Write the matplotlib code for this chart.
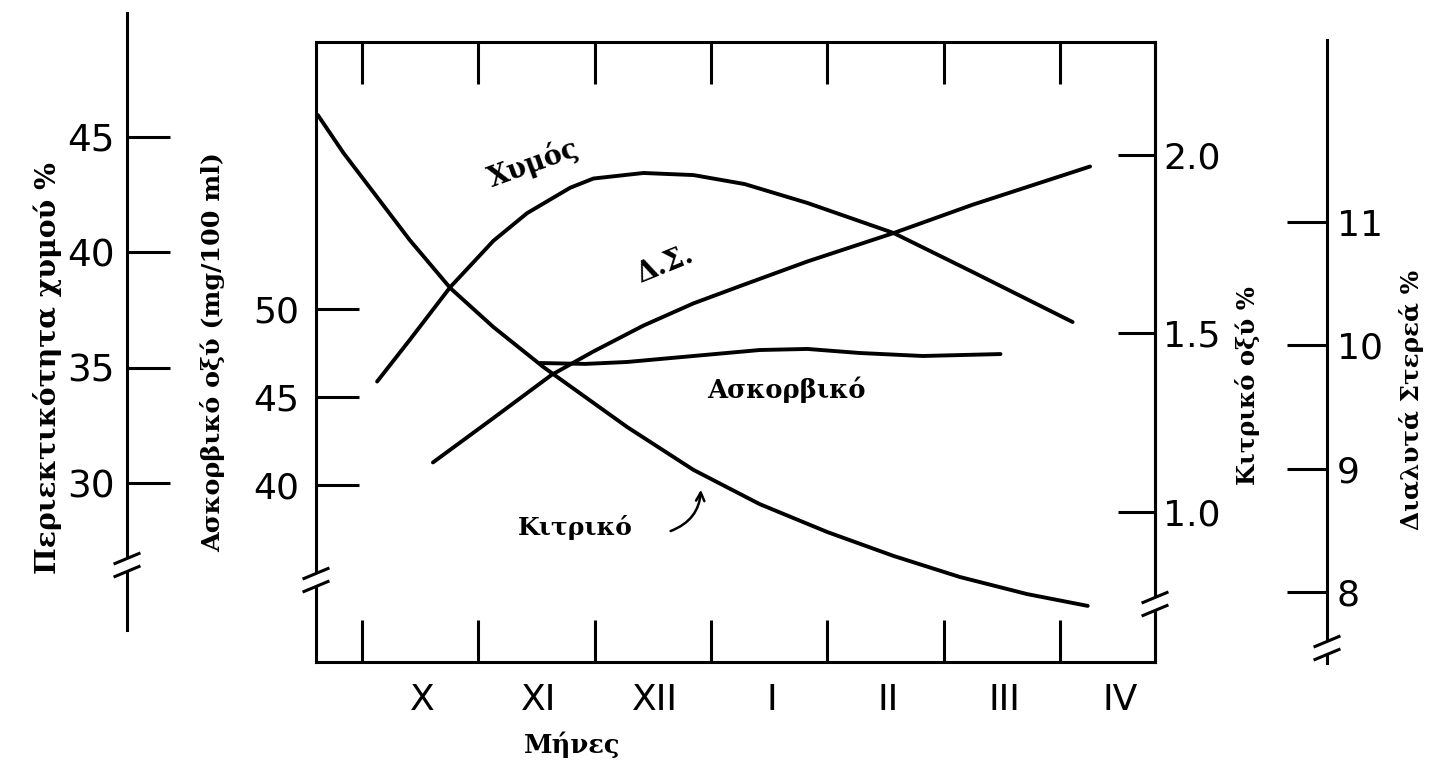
import matplotlib
matplotlib.use("Agg")
import matplotlib.pyplot as plt
from matplotlib.lines import Line2D
from matplotlib.patches import Polygon, FancyArrowPatch

# ---------------- data ----------------
months = ["X", "XI", "XII", "I", "II", "III", "IV"]

# x = months since the start of October
juice_x = [0.13, 0.41, 0.76, 1.13, 1.42, 1.79, 1.99, 2.42, 2.85, 3.29, 3.83, 4.57, 5.25, 6.11]
juice_y = [34.4, 36.2, 38.5, 40.5, 41.7, 42.8, 43.2, 43.44, 43.35, 42.96, 42.14, 40.84, 39.15, 36.98]

ds_x = [0.61, 1.13, 1.63, 1.99, 2.42, 2.85, 3.25, 3.83, 4.57, 5.25, 6.26]
ds_y = [9.05, 9.41, 9.76, 9.95, 10.16, 10.34, 10.48, 10.68, 10.91, 11.14, 11.45]

ascorbic_x = [1.53, 1.92, 2.28, 2.85, 3.42, 3.83, 4.28, 4.82, 5.49]
ascorbic_y = [46.93, 46.88, 46.99, 47.33, 47.67, 47.73, 47.50, 47.33, 47.44]

citric_x = [-0.38, -0.16, 0.13, 0.41, 0.76, 1.13, 1.56, 2.28, 2.85, 3.42, 4.00, 4.57, 5.14, 5.72, 6.24]
citric_y = [2.112, 2.006, 1.882, 1.762, 1.627, 1.518, 1.406, 1.238, 1.118, 1.022, 0.944, 0.877, 0.818, 0.770, 0.737]

juice_ticks = [30, 35, 40, 45]
ascorbic_ticks = [40, 45, 50]
citric_ticks = [1.0, 1.5, 2.0]
ds_ticks = [8, 9, 10, 11]

# ---------------- layout helpers ----------------
W, H = 1430, 762
fig = plt.figure(figsize=(W / 100, H / 100), dpi=100)
fig.patch.set_facecolor("white")

def box(l, t, r, b):
    return [l / W, 1 - b / H, (r - l) / W, (b - t) / H]

def fx(x):
    return x / W

def fy(y):
    return 1 - y / H

def limits(v0, p0, px_per_unit, top, bottom):
    return (v0 - (bottom - p0) / px_per_unit, v0 + (p0 - top) / px_per_unit)

LW_AX = 2.2
LW_CURVE = 2.8
NUM_FONT = dict(family="DejaVu Sans", size=26)
TXT_FONT = dict(family="DejaVu Serif", weight="bold")

BOX = (316, 42, 1155, 662)
month0_px, month_px = 362, 116.3
xlim = ((BOX[0] - month0_px) / month_px, (BOX[2] - month0_px) / month_px)

# scale definitions: (value, pixel row, pixels per unit)
JUICE = (45, 137, 23.07)
ASC = (50, 309, 17.6)
CIT = (2.0, 155, 357.0)
DS = (11, 222, 123.3)

# ---------------- main box (months, ascorbic on the left) ----------------
ax = fig.add_axes(box(*BOX))
ax.set_facecolor("none")
ax.set_xlim(*xlim)
ax.set_ylim(*limits(*ASC, BOX[1], BOX[3]))
for s in ax.spines.values():
    s.set_linewidth(LW_AX)
ax.set_xticks(range(7))
ax.set_xticklabels([])
ax.set_xticks([i + 0.52 for i in range(7)], minor=True)
ax.set_xticklabels(months, minor=True, **NUM_FONT)
ax.tick_params(axis="x", which="major", direction="in", length=30, width=LW_AX,
               top=True, bottom=True)
ax.tick_params(axis="x", which="minor", length=0, pad=15)
ax.set_yticks(ascorbic_ticks)
ax.set_yticklabels([str(t) for t in ascorbic_ticks], **NUM_FONT)
ax.tick_params(axis="y", direction="in", length=31, width=LW_AX, pad=12)

# citric acid on the right spine of the box
axc = ax.twinx()
axc.set_ylim(*limits(*CIT, BOX[1], BOX[3]))
axc.spines["right"].set_linewidth(LW_AX)
for k in ("left", "top", "bottom"):
    axc.spines[k].set_visible(False)
axc.set_yticks(citric_ticks)
axc.set_yticklabels([f"{t:.1f}" for t in citric_ticks], **NUM_FONT)
axc.tick_params(axis="y", direction="in", length=27, width=LW_AX, pad=6)

# hidden scales for juice and soluble solids inside the box
axj = ax.twinx()
axj.set_ylim(*limits(*JUICE, BOX[1], BOX[3]))
axd = ax.twinx()
axd.set_ylim(*limits(*DS, BOX[1], BOX[3]))
for a in (axj, axd):
    a.axis("off")

for a, xs, ys in ((axc, citric_x, citric_y), (axj, juice_x, juice_y),
                  (axd, ds_x, ds_y), (ax, ascorbic_x, ascorbic_y)):
    a.plot(xs, ys, color="black", lw=LW_CURVE, solid_capstyle="round",
           solid_joinstyle="round", clip_on=False)

# ---------------- outer juice axis ----------------
J_TOP, J_BOT, J_X = 13, 630, 127
axjo = fig.add_axes(box(J_X, J_TOP, J_X + 80, J_BOT))
axjo.set_facecolor("none")
axjo.set_ylim(*limits(*JUICE, J_TOP, J_BOT))
axjo.set_xticks([])
for k in ("right", "top", "bottom"):
    axjo.spines[k].set_visible(False)
axjo.spines["left"].set_linewidth(LW_AX)
axjo.set_yticks(juice_ticks)
axjo.set_yticklabels([str(t) for t in juice_ticks], family="DejaVu Sans", size=27)
axjo.tick_params(axis="y", direction="in", length=31, width=LW_AX, pad=9)

# ---------------- outer soluble solids axis ----------------
D_TOP, D_BOT, D_X = 40, 663, 1327
axdo = fig.add_axes(box(D_X - 80, D_TOP, D_X, D_BOT))
axdo.set_facecolor("none")
axdo.set_ylim(*limits(*DS, D_TOP, D_BOT))
axdo.set_xticks([])
for k in ("left", "top", "bottom"):
    axdo.spines[k].set_visible(False)
axdo.spines["right"].set_linewidth(LW_AX)
axdo.yaxis.tick_right()
axdo.set_yticks(ds_ticks)
axdo.set_yticklabels([str(t) for t in ds_ticks], **NUM_FONT)
axdo.tick_params(axis="y", direction="in", length=29, width=LW_AX, pad=7)

# ---------------- axis breaks ----------------
def axis_break(x, y):
    gap = 13
    dx, dy = 12, 5
    upper = [(x - dx, y - gap / 2 + dy), (x + dx, y - gap / 2 - dy)]
    lower = [(x - dx, y + gap / 2 + dy), (x + dx, y + gap / 2 - dy)]
    poly = Polygon([(fx(px), fy(py)) for px, py in upper + lower[::-1]],
                   closed=True, facecolor="white", edgecolor="none",
                   transform=fig.transFigure, zorder=10)
    fig.add_artist(poly)
    for seg in (upper, lower):
        fig.add_artist(Line2D([fx(p[0]) for p in seg], [fy(p[1]) for p in seg],
                              color="black", lw=LW_AX, transform=fig.transFigure,
                              zorder=11))

axis_break(J_X, 565)
axis_break(BOX[0], 580)
axis_break(BOX[2], 604)
axis_break(D_X, 648)

# ---------------- labels ----------------
fig.text(fx(48), fy(368), "Περιεκτικότητα χυμού %", rotation=90,
         ha="center", va="center", size=20.3, **TXT_FONT)
fig.text(fx(213), fy(352), "Ασκορβικό οξύ (mg/100 ml)", rotation=90,
         ha="center", va="center", size=18.3, **TXT_FONT)
fig.text(fx(1247), fy(386), "Κιτρικό οξύ %", rotation=90,
         ha="center", va="center", size=17.5, **TXT_FONT)
fig.text(fx(1412), fy(400), "Διαλυτά Στερεά %", rotation=90,
         ha="center", va="center", size=17.7, **TXT_FONT)
fig.text(fx(572), fy(745), "Μήνες", ha="center", va="center", size=18.5, **TXT_FONT)

fig.text(fx(533), fy(163), "Χυμός", rotation=20, ha="center", va="center",
         size=19.5, **TXT_FONT)
fig.text(fx(665), fy(265), "Δ.Σ.", rotation=22, ha="center", va="center",
         size=19.5, **TXT_FONT)
fig.text(fx(786), fy(390), "Ασκορβικό", ha="center", va="center", size=18.5, **TXT_FONT)
fig.text(fx(575), fy(527), "Κιτρικό", ha="center", va="center", size=18, **TXT_FONT)
fig.add_artist(FancyArrowPatch(
    (fx(668), fy(532)), (fx(701), fy(487)), transform=fig.transFigure,
    arrowstyle="->,head_length=6,head_width=3", connectionstyle="arc3,rad=0.35",
    lw=1.8, color="black"))

fig.savefig("out.png", dpi=100, facecolor="white")
